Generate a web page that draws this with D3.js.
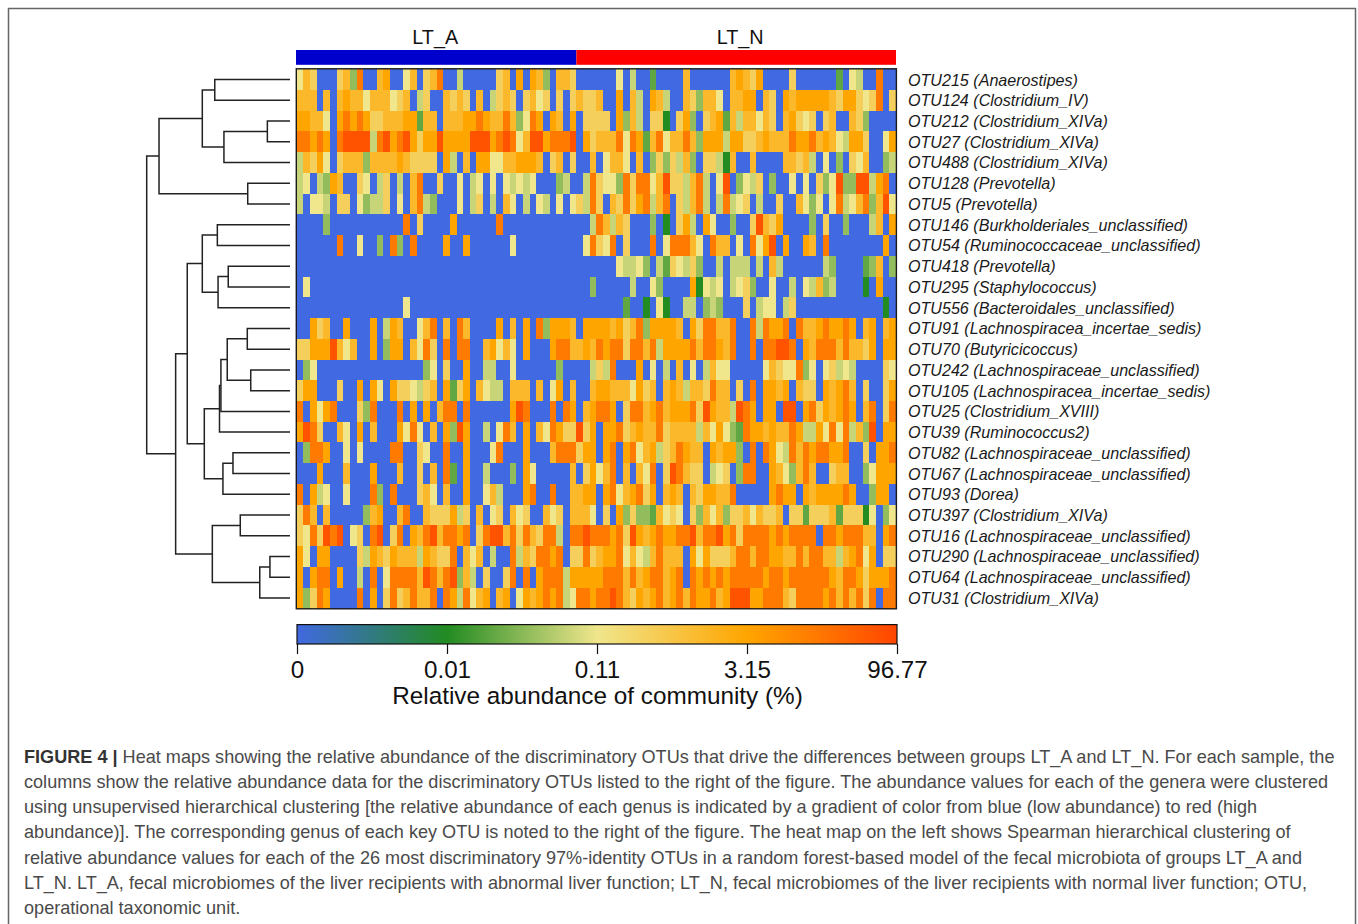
<!doctype html>
<html lang="en">
  <head>
    <meta charset="UTF-8" />
    <title>Heat map of discriminatory OTUs</title>
    <script src="https://d3js.org/d3.v7.min.js"></script>
    <style>
      body {
        margin: 0;
        padding: 0;
        overflow: hidden;
        background: #fff;
      }
      svg {
        display: block;
        font-family: "Liberation Sans", Arial, sans-serif;
      }
    </style>
  </head>
  <body>
    <script>
      const otuLabels = [
        "OTU215 (Anaerostipes)", "OTU124 (Clostridium_IV)", "OTU212 (Clostridium_XIVa)",
        "OTU27 (Clostridium_XIVa)", "OTU488 (Clostridium_XIVa)", "OTU128 (Prevotella)",
        "OTU5 (Prevotella)", "OTU146 (Burkholderiales_unclassified)",
        "OTU54 (Ruminococcaceae_unclassified)", "OTU418 (Prevotella)",
        "OTU295 (Staphylococcus)", "OTU556 (Bacteroidales_unclassified)",
        "OTU91 (Lachnospiracea_incertae_sedis)", "OTU70 (Butyricicoccus)",
        "OTU242 (Lachnospiraceae_unclassified)", "OTU105 (Lachnospiracea_incertae_sedis)",
        "OTU25 (Clostridium_XVIII)", "OTU39 (Ruminococcus2)",
        "OTU82 (Lachnospiraceae_unclassified)", "OTU67 (Lachnospiraceae_unclassified)",
        "OTU93 (Dorea)", "OTU397 (Clostridium_XIVa)", "OTU16 (Lachnospiraceae_unclassified)",
        "OTU290 (Lachnospiraceae_unclassified)", "OTU64 (Lachnospiraceae_unclassified)",
        "OTU31 (Clostridium_XIVa)",
      ];

      // abundance (%) estimated for each colour step seen in the cells, hex digit = index
      const abundanceSteps = [0, 0.01, 0.04, 0.065, 0.09, 0.11, 1.17, 2.24, 3.15, 45.3, 82.7];

      const ltACells = [
        "576000 6739 0078 0057 0679 0040 0000 6708 0873 0776",
        "777070 7877 5777 5670 4600 7676 0704 6760 6756 0606",
        "887750 8989 8667 7788 2770 7778 8987 7973 5980 8708",
        "998980 9aaa a49a 89a8 688a 8888 aaa8 9a95 7aa8 999a",
        "476850 6777 3777 7876 6660 8407 0885 5778 8870 6706",
        "450438 7006 5046 0407 9006 0050 4505 0545 4500 0340",
        "405540 6605 3446 0507 9430 0050 4604 0750 4054 0505",
        "000030 0000 0000 0090 6000 0800 0000 9000 0000 0000",
        "000000 9005 0030 9309 0000 8008 0000 0050 0000 0000",
        "000000 0000 0000 0000 0000 0000 0000 0000 0000 0000",
        "050000 0000 0000 0000 0000 0000 0000 0000 0000 0000",
        "000000 0000 0000 0050 0000 0000 0000 0000 0000 0000",
        "008670 0800 0804 8700 5790 7097 0000 8070 8093 8887",
        "66888a 7570 0803 8807 5960 9099 0078 5750 8000 8997",
        "035000 0000 0000 0000 0350 6008 0044 0050 0000 0300",
        "688000 6008 0850 8665 4670 8268 0754 4077 7070 5807",
        "908589 0006 3900 0908 0807 9909 0000 008a 9000 9098",
        "8a9600 7508 0700 0859 5070 83a8 0040 5970 8075 9866",
        "039980 0505 0000 9900 6500 9008 0005 9000 8000 7999",
        "000800 0700 0800 0700 6070 9208 0040 0030 8500 0007",
        "908450 0500 0930 9000 6750 7008 0057 4000 8900 9007",
        "697070 0000 3780 0790 0766 6846 0705 6075 6007 5607",
        "6596a9 a056 09a0 6908 79a7 9989 069a a796 9769 9409",
        "850880 0006 4876 8777 4876 6907 5704 0094 7699 8906",
        "808990 8004 0905 9999 7a97 9a37 4060 0690 9089 9948",
        "836980 0009 0806 9679 7790 9849 5780 7805 8789 8945",
      ];

      const ltNCells = [
        "000000 504002 000070 000007 876800 006000 000205 400900",
        "766700 807408 740076 377507 788076 087888 887688 656906",
        "066660 837406 610683 067827 477576 078656 067007 630000",
        "086777 959827 957797 388848 866787 779889 787548 860058",
        "007057 750703 636473 066417 007000 077674 050306 570034",
        "049655 396995 7a6647 9405a0 354603 005050 635a33 aa4890",
        "649607 696894 790647 940494 560400 600753 505945 7937a5",
        "004974 760003 010684 085003 006a76 800003 060030 004708",
        "059659 060009 059997 509770 50958a 080087 090000 000080",
        "000000 544530 426546 300404 440407 400000 043000 023703",
        "003000 004005 300008 154504 563005 004054 734000 010800",
        "000000 020010 510044 034300 060455 046000 000000 000010",
        "088887 867938 888708 699779 009498 890977 898898 078078",
        "787989 969979 488889 799879 009099 aa9087 999797 768088",
        "004649 000805 040705 047550 000057 655935 056454 000065",
        "007887 775867 078747 769770 609088 780766 087897 060068",
        "078998 069978 978889 6a8774 a98088 0aa089 687898 079069",
        "a68088 967877 967777 475853 298878 779844 859594 73a088",
        "688089 089578 467987 708788 309098 549798 998890 060889",
        "068579 070759 06a976 604560 399008 753797 006770 035888",
        "788089 578968 078707 688779 000008 988087 888898 003880",
        "775060 836332 756506 375736 675766 706626 667266 615035",
        "9a9998 96a878 98899a 799a89 699998 989999 099899 977089",
        "696788 957547 977708 586667 997998 877979 977478 958066",
        "888899 979789 978909 898989 999989 989999 998799 868889",
        "99899a 976878 978979 88978a aa8899 976999 989797 969099",
      ];

      const groupNames = ["LT_A", "LT_N"];
      const groupColors = ["#0000cd", "#ff0000"];
      const groupSizes = [42, 48];
      const groupLabelCols = [20.8, 66.6]; // column the group title is centred over

      const colorTicks = [0, 0.01, 0.11, 3.15, 96.77];
      const colorTickLabels = ["0", "0.01", "0.11", "3.15", "96.77"];
      const colorStops = ["#4169e1", "#228b22", "#f0e68c", "#ffa500", "#ff4500"];

      // [height, child, child], a plain number is a row index
      const rowTree = [1.0,
        [0.914,
          [0.612,
            [0.525, 0, 1],
            [0.461, [0.158, 2, 3], 4]],
          [0.295, 5, 6]],
        [0.798,
          [0.717,
            [0.612,
              [0.507, 7, 8],
              [0.502, [0.431, 9, 10], 11]],
            [0.598,
              [0.492,
                [0.482,
                  [0.438, [0.298, 12, 13], [0.274, 14, 15]],
                  16],
                17],
              [0.468, [0.398, 18, 19], 20]]],
          [0.542,
            [0.347, 21, 22],
            [0.211, [0.14, 23, 24], 25]]]];

      const captionBold = "FIGURE 4 |";
      const captionLines = [
        " Heat maps showing the relative abundance of the discriminatory OTUs that drive the differences between groups LT_A and LT_N. For each sample, the",
        "columns show the relative abundance data for the discriminatory OTUs listed to the right of the figure. The abundance values for each of the genera were clustered",
        "using unsupervised hierarchical clustering [the relative abundance of each genus is indicated by a gradient of color from blue (low abundance) to red (high",
        "abundance)]. The corresponding genus of each key OTU is noted to the right of the figure. The heat map on the left shows Spearman hierarchical clustering of",
        "relative abundance values for each of the 26 most discriminatory 97%-identity OTUs in a random forest-based model of the fecal microbiota of groups LT_A and",
        "LT_N. LT_A, fecal microbiomes of the liver recipients with abnormal liver function; LT_N, fecal microbiomes of the liver recipients with normal liver function; OTU,",
        "operational taxonomic unit.",
      ];

      const width = 1358;
      const height = 924;
      const heat = { left: 296.7, right: 896, top: 69.2, bottom: 608.4 };

      const svg = d3.select("body").append("svg").attr("width", width).attr("height", height);

      // figure frame, runs off the bottom of the page
      svg.append("path")
        .attr("d", `M8.5,${height + 5}V8.5H1355.5V${height + 5}`)
        .attr("fill", "none")
        .attr("stroke", "#666")
        .attr("stroke-width", 1.5);

      const nCols = d3.sum(groupSizes);
      const x = d3.scaleBand().domain(d3.range(nCols)).range([heat.left, heat.right]);
      const y = d3.scaleBand().domain(d3.range(otuLabels.length)).range([heat.top, heat.bottom]);
      const color = d3.scaleLinear().domain(colorTicks).range(colorStops);

      const cells = [];
      otuLabels.forEach((label, row) => {
        const digits = (ltACells[row] + ltNCells[row]).replace(/ /g, "");
        digits.split("").forEach((c, col) => {
          cells.push({ row, col, value: abundanceSteps[parseInt(c, 16)] });
        });
      });

      svg.append("g")
        .attr("shape-rendering", "crispEdges")
        .selectAll("rect")
        .data(cells)
        .join("rect")
        .attr("x", (d) => x(d.col))
        .attr("y", (d) => y(d.row))
        .attr("width", x.bandwidth() + 0.4)
        .attr("height", y.bandwidth() + 0.4)
        .attr("fill", (d) => color(d.value));

      svg.append("rect")
        .attr("x", heat.left - 0.4)
        .attr("y", heat.top - 0.4)
        .attr("width", heat.right - heat.left + 0.8)
        .attr("height", heat.bottom - heat.top + 0.8)
        .attr("fill", "none")
        .attr("stroke", "#1a1a1a")
        .attr("stroke-width", 1.4);

      // group bar on top
      const groupStarts = d3.cumsum([0].concat(groupSizes));
      const groups = groupNames.map((name, i) => ({
        name,
        fill: groupColors[i],
        labelX: x(Math.floor(groupLabelCols[i])) + (groupLabelCols[i] % 1) * x.step(),
        x0: i === 0 ? heat.left - 0.7 : x(groupStarts[i]),
        x1: i === groupNames.length - 1 ? heat.right : x(groupStarts[i + 1]),
      }));

      svg.append("g")
        .selectAll("rect")
        .data(groups)
        .join("rect")
        .attr("x", (d) => d.x0)
        .attr("y", 50)
        .attr("width", (d) => d.x1 - d.x0)
        .attr("height", 14.8)
        .attr("fill", (d) => d.fill);

      svg.append("g")
        .selectAll("text")
        .data(groups)
        .join("text")
        .attr("x", (d) => d.labelX)
        .attr("y", 43.5)
        .attr("text-anchor", "middle")
        .attr("font-size", 19.8)
        .attr("fill", "#111")
        .text((d) => d.name);

      // row labels
      svg.append("g")
        .selectAll("text")
        .data(otuLabels)
        .join("text")
        .attr("x", 908)
        .attr("y", (d, i) => y(i) + y.bandwidth() / 2 + 0.3)
        .attr("dy", "0.35em")
        .attr("font-size", 16.1)
        .attr("font-style", "italic")
        .attr("fill", "#1a1a1a")
        .text((d) => d);

      // row dendrogram
      const treeX = d3.scaleLinear().domain([0, 1]).range([290, 146.7]);
      const root = d3.hierarchy(rowTree, (d) => (Array.isArray(d) ? d.slice(1) : null));
      root.eachAfter((n) => {
        if (n.children) {
          n.px = treeX(n.data[0]);
          n.py = d3.mean(n.children, (c) => c.py);
        } else {
          n.px = treeX(0);
          n.py = y(n.data) + y.bandwidth() / 2;
        }
      });

      svg.append("g")
        .selectAll("path")
        .data(root.descendants().filter((n) => n.children))
        .join("path")
        .attr("d", (n) => {
          const [a, b] = n.children;
          return `M${a.px},${a.py}H${n.px}V${b.py}H${b.px}`;
        })
        .attr("fill", "none")
        .attr("stroke", "#222")
        .attr("stroke-width", 1.5);

      // colour key
      const keyX = d3.scalePoint().domain(colorTickLabels).range([297, 897]);
      const keyTop = 624.6;
      const keyHeight = 19.4;

      const gradient = svg.append("defs").append("linearGradient").attr("id", "key-gradient");
      gradient.selectAll("stop")
        .data(colorStops)
        .join("stop")
        .attr("offset", (d, i) => i / (colorStops.length - 1))
        .attr("stop-color", (d) => d);

      svg.append("rect")
        .attr("x", keyX.range()[0])
        .attr("y", keyTop)
        .attr("width", keyX.range()[1] - keyX.range()[0])
        .attr("height", keyHeight)
        .attr("fill", "url(#key-gradient)")
        .attr("stroke", "#111")
        .attr("stroke-width", 1.2);

      const keyAxis = svg.append("g")
        .attr("transform", `translate(0,${keyTop + keyHeight})`)
        .call(d3.axisBottom(keyX).tickSize(10).tickPadding(7));
      keyAxis.select(".domain").remove();
      keyAxis.selectAll(".tick line").attr("stroke", "#111").attr("stroke-width", 1.2);
      keyAxis.selectAll(".tick text")
        .attr("font-family", "'Liberation Sans', Arial, sans-serif")
        .attr("font-size", 24.2)
        .attr("fill", "#111");

      svg.append("text")
        .attr("x", 597.5)
        .attr("y", 704)
        .attr("text-anchor", "middle")
        .attr("font-size", 24.3)
        .attr("fill", "#111")
        .text("Relative abundance of community (%)");

      // caption
      const caption = svg.append("g")
        .attr("font-size", 18.1)
        .attr("fill", "#4a4a4a");

      caption.selectAll("text")
        .data(captionLines)
        .join("text")
        .attr("x", 24)
        .attr("y", (d, i) => 762.5 + i * 25.3)
        .attr("xml:space", "preserve")
        .each(function (d, i) {
          const t = d3.select(this);
          if (i === 0) {
            t.append("tspan").attr("font-weight", "bold").attr("fill", "#333").text(captionBold);
          }
          t.append("tspan").text(d);
        });
    </script>
  </body>
</html>
